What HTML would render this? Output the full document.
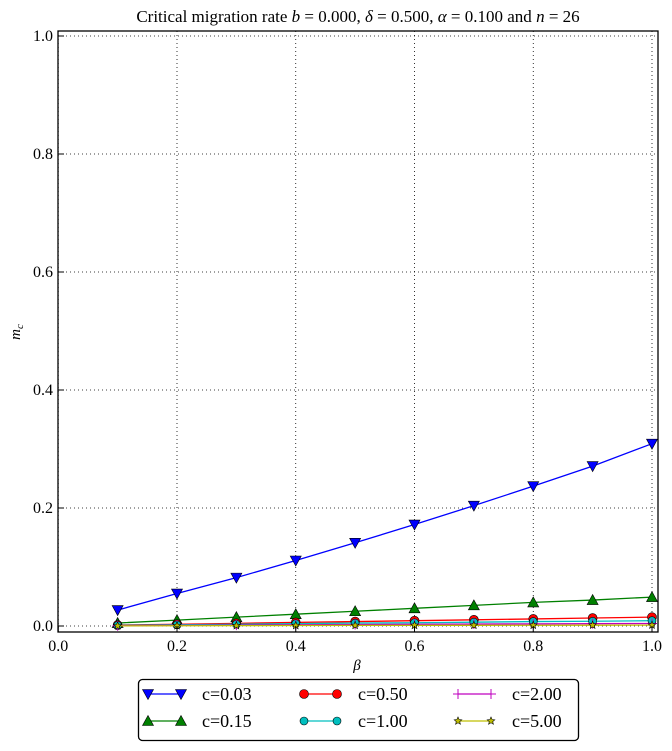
<!DOCTYPE html>
<html><head><meta charset="utf-8">
<style>
body{margin:0;background:#fff;}
svg{display:block;font-family:"Liberation Serif",serif;}
</style></head>
<body>
<svg id="chart" width="672" height="751" viewBox="0 0 672 751" xmlns="http://www.w3.org/2000/svg">
<rect width="672" height="751" fill="#fff"/>
<text x="358" y="22" text-anchor="middle" font-size="17">Critical migration rate <tspan font-style="italic">b</tspan> = 0.000, <tspan font-style="italic">δ</tspan> = 0.500, <tspan font-style="italic">α</tspan> = 0.100 and <tspan font-style="italic">n</tspan> = 26</text>
<g id="grid"></g>
<g id="series"></g>
<rect x="58" y="31" width="600" height="601" fill="none" stroke="#000" stroke-width="1.3"/>
<g id="ticks"></g>
<text x="357" y="670" text-anchor="middle" font-size="15" font-style="italic">β</text>
<text transform="translate(20,332) rotate(-90)" text-anchor="middle" font-size="15" font-style="italic">m<tspan font-size="11" dy="3">c</tspan></text>
<g id="legend">
<rect x="138.5" y="679.5" width="440" height="61" rx="4" fill="#fff" stroke="#000" stroke-width="1.3"/>
</g>
</svg>
<script>
const betas=[0.1,0.2,0.3,0.4,0.5,0.6,0.7,0.8,0.9,1.0];
const s003=[0.027,0.055,0.082,0.111,0.141,0.172,0.204,0.237,0.271,0.309];
const s015=[0.005,0.010,0.015,0.020,0.025,0.030,0.035,0.040,0.044,0.049];
const s050=[0.0016,0.003,0.0045,0.006,0.0075,0.009,0.0105,0.012,0.0135,0.015];
const s100=[0.001,0.002,0.003,0.004,0.005,0.0055,0.0065,0.0075,0.008,0.009];
const s200=[0.0005,0.001,0.0015,0.002,0.0025,0.003,0.0033,0.0036,0.004,0.0043];
const s500=[0.0002,0.0004,0.0006,0.0008,0.001,0.0011,0.0012,0.0013,0.0014,0.0015];
const labels=["c=0.03","c=0.15","c=0.50","c=1.00","c=2.00","c=5.00"];
const xTicks=[0.0,0.2,0.4,0.6,0.8,1.0];
const yTicks=[0.0,0.2,0.4,0.6,0.8,1.0];
const NS="http://www.w3.org/2000/svg";
function X(v){return 58.25+v*593.75;}
function Y(v){return 626-v*590;}
function mk(tag,attrs,parent){const e=document.createElementNS(NS,tag);for(const k in attrs)e.setAttribute(k,attrs[k]);parent.appendChild(e);return e;}
const grid=document.getElementById('grid'),ticks=document.getElementById('ticks'),ser=document.getElementById('series'),leg=document.getElementById('legend');
xTicks.forEach(t=>{
  const g=mk('line',{x1:X(t),x2:X(t),y1:31,y2:632,stroke:'#000','stroke-width':0.8,'stroke-dasharray':'1,3'},grid);
  
  const tk=mk('line',{x1:X(t),x2:X(t),y1:632,y2:626,stroke:'#000'},ticks);
  
  const tx=mk('text',{x:X(t),y:651,'text-anchor':'middle','font-size':16},ticks);tx.textContent=t.toFixed(1);
  
});
yTicks.forEach(t=>{
  const g=mk('line',{x1:58,x2:658,y1:Y(t),y2:Y(t),stroke:'#000','stroke-width':0.8,'stroke-dasharray':'1,3'},grid);
  
  const tk=mk('line',{x1:58,x2:64,y1:Y(t),y2:Y(t),stroke:'#000'},ticks);
  
  const tx=mk('text',{x:53,y:Y(t)+5,'text-anchor':'end','font-size':16},ticks);tx.textContent=t.toFixed(1);
  
});
function marker(type,x,y,color,parent){
  let e;
  if(type==='vtri'){e=mk('polygon',{points:`${x-5.5},${y-4.5} ${x+5.5},${y-4.5} ${x},${y+5.5}`,fill:color,stroke:'#000','stroke-width':0.6},parent);}
  else if(type==='tri'){e=mk('polygon',{points:`${x-5.5},${y+4.5} ${x+5.5},${y+4.5} ${x},${y-5.5}`,fill:color,stroke:'#000','stroke-width':0.6},parent);}
  else if(type==='circ'){e=mk('circle',{cx:x,cy:y,r:4.5,fill:color,stroke:'#000','stroke-width':0.6},parent);}
  else if(type==='hex'){e=mk('circle',{cx:x,cy:y,r:4,fill:color,stroke:'#000','stroke-width':0.6},parent);}
  else if(type==='plus'){e=mk('path',{d:`M${x-5},${y}H${x+5}M${x},${y-5}V${y+5}`,stroke:color,'stroke-width':1},parent);}
  else {let p=[];for(let i=0;i<10;i++){const r=i%2?1.8:4,a=-Math.PI/2+i*Math.PI/5;p.push((x+r*Math.cos(a)).toFixed(1)+','+(y+r*Math.sin(a)).toFixed(1));}
    e=mk('polygon',{points:p.join(' '),fill:color,stroke:'#000','stroke-width':0.6},parent);}
  return e;
}
const defs=[[s003,'#0000ff','vtri'],[s015,'#008000','tri'],[s050,'#ff0000','circ'],[s100,'#00bfbf','hex'],[s200,'#bf00bf','plus'],[s500,'#bfbf00','star']];
defs.forEach(([vals,color,type],idx)=>{
  const g=mk('g',{},ser);
  
  
  const pl=mk('polyline',{points:betas.map((b,i)=>X(b)+','+Y(vals[i])).join(' '),fill:'none',stroke:color,'stroke-width':1.3},g);
  
  betas.forEach((b,i)=>{const m=marker(type,X(b),Y(vals[i]),color,g);
    });
});
const cols=[148,304,458],rows=[694,721];
defs.forEach(([vals,color,type],i)=>{
  const cx=cols[Math.floor(i/2)],cy=rows[i%2];
  const g=mk('g',{},leg);
  
  
  mk('line',{x1:cx,x2:cx+33,y1:cy,y2:cy,stroke:color,'stroke-width':1.3},g);
  marker(type,cx,cy,color,g);marker(type,cx+33,cy,color,g);
  const t=mk('text',{x:cx+54,y:cy+6,'font-size':18},g);t.textContent=labels[i];
});
</script>
</body></html>
